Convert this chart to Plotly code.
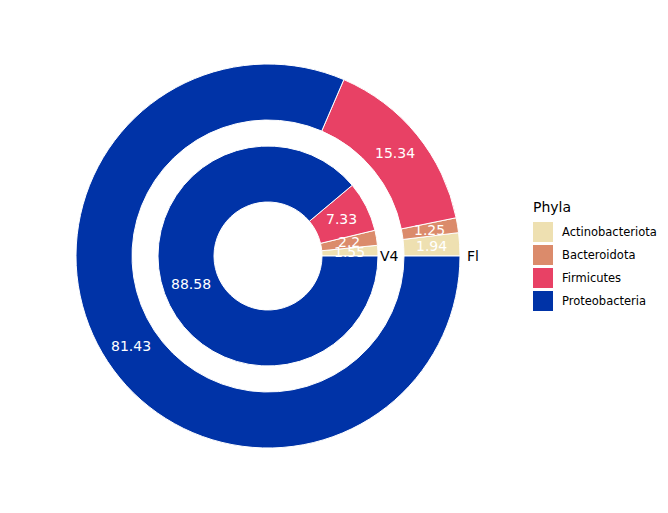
import math
import plotly.graph_objects as go

phyla = ["Actinobacteriota", "Bacteroidota", "Firmicutes", "Proteobacteria"]
colors = ["#EEE0B1", "#DB8B6B", "#E84165", "#0033A7"]
fl_values = [1.94, 1.25, 15.34, 81.43]
v4_values = [1.55, 2.2, 7.33, 88.58]
ring_names = ["Fl", "V4"]

W, H = 668, 513
cx, cy = 268, 257  # centre in px (y from bottom)
outer_r, outer_hole = 192, 136
inner_r, inner_hole = 110, 54


def dom(r):
    return dict(x=[(cx - r) / W, (cx + r) / W], y=[(cy - r) / H, (cy + r) / H])


fig = go.Figure()
for vals, r, hr in [(fl_values, outer_r, outer_hole), (v4_values, inner_r, inner_hole)]:
    # plotly puts the END of the first slice at `rotation` when counterclockwise
    rot = 90 - 360 * vals[0] / sum(vals)
    fig.add_trace(go.Pie(
        labels=phyla, values=vals, sort=False, direction="counterclockwise",
        rotation=rot, hole=hr / r, domain=dom(r),
        marker=dict(colors=colors, line=dict(color="white", width=1)),
        textinfo="none", showlegend=False, hoverinfo="label+value",
    ))

annotations = []
for vals, r, hr in [(fl_values, outer_r, outer_hole), (v4_values, inner_r, inner_hole)]:
    tot = sum(vals)
    cum = 0
    rm = (r + hr) / 2
    for v in vals:
        mid = (cum + v / 2) / tot * 2 * math.pi
        cum += v
        x = cx + rm * math.cos(mid)
        y = cy + rm * math.sin(mid)
        annotations.append(dict(x=x / W, y=y / H, xref="paper", yref="paper",
                                xanchor="center", yanchor="middle",
                                text=f"{v:g}", showarrow=False,
                                font=dict(color="white", size=14, family="DejaVu Sans")))

# ring labels
for name, r, off in zip(ring_names, [outer_r, inner_r], [5, 0]):
    annotations.append(dict(x=(cx + r + off) / W, y=cy / H, xref="paper", yref="paper",
                            text=name, showarrow=False, xanchor="left", yanchor="middle",
                            font=dict(color="black", size=14, family="DejaVu Sans")))

# legend
shapes = []
lx, ly0 = 533, 513 - 232
annotations.append(dict(x=(lx - 2) / W, y=(513 - 207) / H, xref="paper", yref="paper",
                        text="Phyla", showarrow=False, xanchor="left", yanchor="middle",
                        font=dict(color="black", size=14, family="DejaVu Sans")))
for i, (p, c) in enumerate(zip(phyla, colors)):
    yc = ly0 - i * 23
    shapes.append(dict(type="rect", xref="paper", yref="paper",
                       x0=lx / W, x1=(lx + 20) / W, y0=(yc - 10) / H, y1=(yc + 10) / H,
                       fillcolor=c, line=dict(width=0)))
    annotations.append(dict(x=(lx + 27) / W, y=yc / H, xref="paper", yref="paper",
                            text=p, showarrow=False, xanchor="left", yanchor="middle",
                            font=dict(color="black", size=11.5, family="DejaVu Sans")))

fig.update_layout(width=W, height=H, margin=dict(l=0, r=0, t=0, b=0),
                  paper_bgcolor="white", plot_bgcolor="white",
                  annotations=annotations, shapes=shapes)
fig.write_html("out.html")
